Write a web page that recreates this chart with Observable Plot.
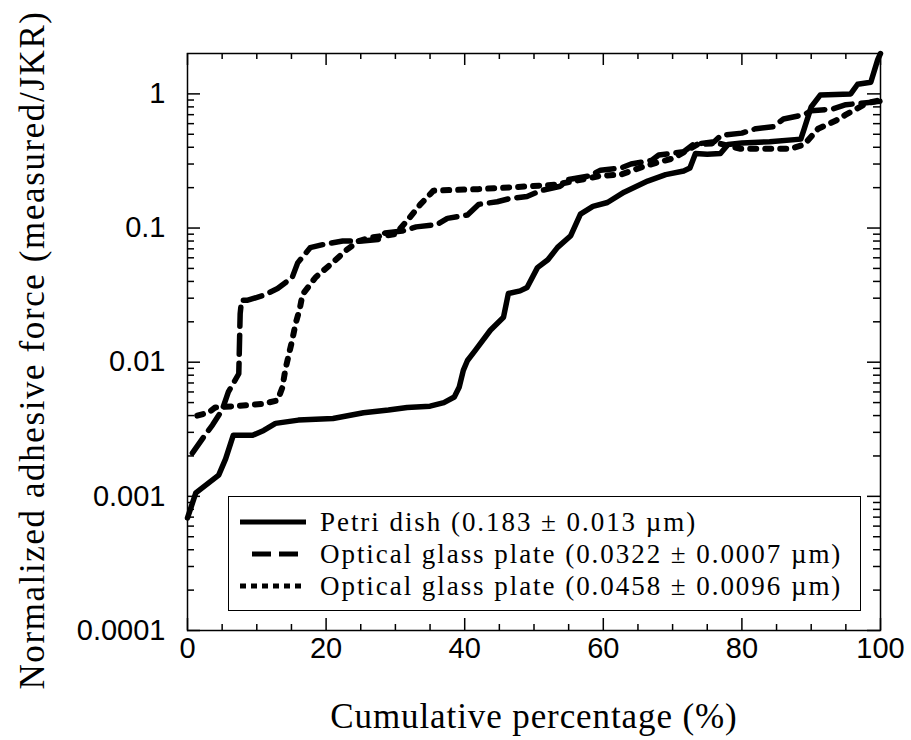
<!DOCTYPE html>
<html>
<head>
<meta charset="utf-8">
<script src="https://cdn.jsdelivr.net/npm/d3@7"></script>
<script src="https://cdn.jsdelivr.net/npm/@observablehq/plot@0.6"></script>
<style>
  body { margin: 0; background: #fff; }
  #wrap { position: relative; width: 911px; height: 740px; background: #fff; }
  #legend { position: absolute; left: 228px; top: 496px; width: 631px; height: 113px;
    border: 1.5px solid #000; background: #fff;
    font-family: "Liberation Serif", "Times New Roman", serif; font-size: 27px; letter-spacing: 1.95px; color: #000; }
  .row { position: absolute; left: 0; height: 32px; display: flex; align-items: center; white-space: nowrap; }
  .row svg { margin-left: 11px; margin-right: 14px; }
</style>
</head>
<body>
<div id="wrap"></div>
<script>
// ---- data ----
const petriX = [0, 1.2, 4.5, 5.5, 6.6, 9.4, 11, 12.7, 16, 21, 25.4, 29, 31.7, 35, 37, 38.5, 39.2, 39.8, 40.4, 41.5, 43.7, 45.6, 46.3, 48, 49, 50.5, 52, 53.4, 55.3, 56.7, 58.5, 60.6, 63, 66.4, 69, 71.6, 72.5, 73.3, 75, 76.9, 78, 80, 84, 88.5, 89, 90, 91.3, 95.7, 96.7, 98.6, 99.6, 100];
const petriY = [0.00069, 0.00106, 0.00144, 0.0019, 0.00285, 0.00285, 0.0031, 0.0035, 0.0037, 0.0038, 0.0042, 0.0044, 0.0046, 0.0047, 0.0050, 0.0055, 0.0065, 0.0087, 0.0103, 0.0122, 0.0173, 0.0216, 0.0325, 0.034, 0.036, 0.0507, 0.058, 0.0717, 0.0877, 0.127, 0.145, 0.155, 0.185, 0.224, 0.25, 0.266, 0.28, 0.36, 0.355, 0.36, 0.42, 0.43, 0.44, 0.46, 0.55, 0.8, 0.98, 1.0, 1.18, 1.22, 1.8, 2.0];

const glassAX = [0.7, 2.6, 3.6, 5, 5.9, 7.4, 7.6, 7.8, 8.7, 11, 13, 15.1, 15.9, 17.7, 19.9, 22.4, 25.2, 27.5, 28.5, 31, 33, 36, 37.5, 40.4, 42, 44.7, 46.3, 49, 51, 53.8, 55, 58, 59.6, 62.5, 64, 67, 68, 71.6, 73, 76, 77, 80, 82, 84.5, 86, 89, 90, 93, 95, 98, 100];
const glassAY = [0.0021, 0.0029, 0.0034, 0.0044, 0.0060, 0.0082, 0.023, 0.029, 0.029, 0.0315, 0.0354, 0.0427, 0.055, 0.0714, 0.076, 0.080, 0.080, 0.082, 0.092, 0.095, 0.102, 0.106, 0.118, 0.125, 0.150, 0.157, 0.165, 0.172, 0.19, 0.205, 0.23, 0.245, 0.27, 0.28, 0.30, 0.32, 0.35, 0.37, 0.42, 0.44, 0.49, 0.51, 0.55, 0.57, 0.65, 0.70, 0.75, 0.77, 0.83, 0.86, 0.88];

const glassBX = [1.4, 3, 4, 6.9, 11, 13, 13.7, 14.1, 14.6, 15.1, 15.6, 16.2, 16.6, 18.5, 20.9, 23, 24.7, 26.4, 30, 31.9, 33.6, 35.5, 42, 49.5, 53, 56, 59.6, 62.5, 66, 70, 73.6, 76.5, 79.8, 87, 89, 91, 93.5, 95, 98, 100];
const glassBY = [0.0040, 0.0042, 0.0046, 0.0047, 0.0049, 0.0052, 0.0065, 0.0087, 0.0113, 0.0145, 0.0194, 0.025, 0.032, 0.043, 0.055, 0.069, 0.080, 0.085, 0.09, 0.117, 0.15, 0.19, 0.195, 0.205, 0.21, 0.225, 0.245, 0.25, 0.29, 0.33, 0.42, 0.43, 0.39, 0.39, 0.42, 0.55, 0.63, 0.70, 0.85, 0.90];

const seriesNames = [
  "Petri dish (0.183 \u00B1  0.013 \u00B5m)",
  "Optical glass plate (0.0322 \u00B1 0.0007 \u00B5m)",
  "Optical glass plate (0.0458 \u00B1 0.0096 \u00B5m)"
];

const xTicks = [0, 20, 40, 60, 80, 100];
const xTickLabels = ["0", "20", "40", "60", "80", "100"];
const yTicks = [0.0001, 0.001, 0.01, 0.1, 1];
const yTickLabels = ["0.0001", "0.001", "0.01", "0.1", "1"];
const xTitle = "Cumulative percentage (%)";
const yTitle = "Normalized adhesive force (measured/JKR)";

// minor ticks
const xMinor = d3.range(0, 101, 5).filter(v => !xTicks.includes(v));
const yMinor = [];
for (const e of [-4, -3, -2, -1, 0]) for (let k = 2; k <= 9; k++) { const v = k * Math.pow(10, e); if (v < 2) yMinor.push(v); }

const toRows = (xs, ys) => xs.map((x, i) => ({x, y: ys[i]}));
const petri = toRows(petriX, petriY);
const glassA = toRows(glassAX, glassAY);
const glassB = toRows(glassBX, glassBY);

const W = 911, H = 740, mL = 187, mR = 31, mT = 53, mB = 110;
const fw = W - mL - mR, fh = H - mT - mB;
const serif = "'Liberation Serif', 'Times New Roman', serif";

const chart = Plot.plot({
  width: W, height: H,
  marginLeft: mL, marginRight: mR, marginTop: mT, marginBottom: mB,
  style: { fontFamily: "'Liberation Sans', Arial, sans-serif", color: "#000", background: "#fff", overflow: "visible" },
  x: { domain: [0, 100] },
  y: { type: "log", domain: [0.0001, 2] },
  marks: [
    Plot.axisX(xTicks, { tickSize: 0, tickPadding: 7, label: null, fontSize: 29,
      tickFormat: d => xTickLabels[xTicks.indexOf(d)] }),
    Plot.axisY(yTicks, { tickSize: 0, tickPadding: 22, label: null, fontSize: 29,
      tickFormat: d => yTickLabels[yTicks.indexOf(d)] }),
    // inward ticks, bottom & top
    Plot.tickX(xTicks, { x: d => d, insetTop: fh - 12, stroke: "#000", strokeWidth: 1.5 }),
    Plot.tickX(xTicks, { x: d => d, insetBottom: fh - 12, stroke: "#000", strokeWidth: 1.5 }),
    Plot.tickX(xMinor, { x: d => d, insetTop: fh - 6, stroke: "#000", strokeWidth: 1.5 }),
    Plot.tickX(xMinor, { x: d => d, insetBottom: fh - 6, stroke: "#000", strokeWidth: 1.5 }),
    // inward ticks, left & right
    Plot.tickY(yTicks, { y: d => d, insetRight: fw - 13, stroke: "#000", strokeWidth: 1.5 }),
    Plot.tickY(yTicks, { y: d => d, insetLeft: fw - 13, stroke: "#000", strokeWidth: 1.5 }),
    Plot.tickY(yMinor, { y: d => d, insetRight: fw - 7, stroke: "#000", strokeWidth: 1.5 }),
    Plot.tickY(yMinor, { y: d => d, insetLeft: fw - 7, stroke: "#000", strokeWidth: 1.5 }),
    // series
    Plot.line(glassB, { x: "x", y: "y", stroke: "#000", strokeWidth: 6, strokeDasharray: "6,9" }),
    Plot.line(glassA, { x: "x", y: "y", stroke: "#000", strokeWidth: 5.5, strokeDasharray: "19,9" }),
    Plot.line(petri, { x: "x", y: "y", stroke: "#000", strokeWidth: 5.5, strokeLinejoin: "round" }),
    Plot.frame({ stroke: "#000", strokeWidth: 1.5 }),
    // axis titles
    Plot.text([xTitle], { frameAnchor: "bottom", dy: 86, text: d => d, fontSize: 35, lineAnchor: "middle",
      textAnchor: "middle", fontFamily: serif, fill: "#000" }),
    Plot.text([yTitle], { frameAnchor: "left", dx: -155, dy: 8, rotate: -90, text: d => d, fontSize: 35,
      lineAnchor: "middle", textAnchor: "middle", fontFamily: serif, fill: "#000" })
  ]
});

const wrap = document.getElementById("wrap");
wrap.appendChild(chart);

// letter spacing of the axis titles (wide serif as in the reference)
chart.querySelectorAll("text").forEach(t => {
  if (t.textContent === xTitle) t.setAttribute("letter-spacing", "0.9");
  if (t.textContent === yTitle) t.setAttribute("letter-spacing", "1.6");
});

// legend (HTML overlay)
const legend = document.createElement("div");
legend.id = "legend";
const dashes = [null, "19,8", "6,5"];
const rowTops = [9, 41, 73];
seriesNames.forEach((name, i) => {
  const row = document.createElement("div");
  row.className = "row";
  row.style.top = rowTops[i] + "px";
  const svgNS = "http://www.w3.org/2000/svg";
  const s = document.createElementNS(svgNS, "svg");
  s.setAttribute("width", 66); s.setAttribute("height", 12);
  const l = document.createElementNS(svgNS, "line");
  l.setAttribute("x1", i === 1 ? 12 : 0); l.setAttribute("x2", 66);
  l.setAttribute("y1", 6); l.setAttribute("y2", 6);
  l.setAttribute("stroke", "#000"); l.setAttribute("stroke-width", 5);
  if (dashes[i]) l.setAttribute("stroke-dasharray", dashes[i]);
  s.appendChild(l);
  row.appendChild(s);
  const t = document.createElement("span");
  t.textContent = name;
  row.appendChild(t);
  legend.appendChild(row);
});
wrap.appendChild(legend);
</script>
</body>
</html>
